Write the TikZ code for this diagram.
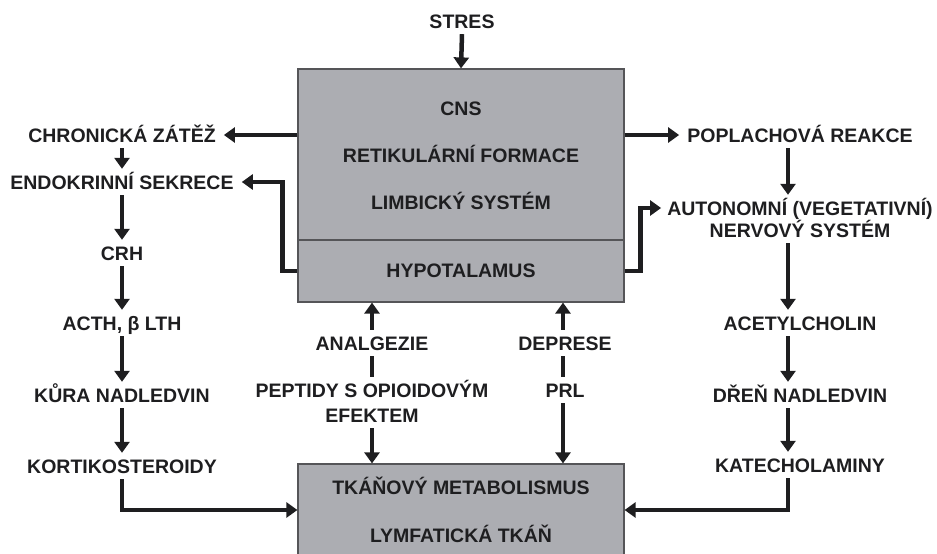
\documentclass[tikz,border=0pt]{standalone}
\usepackage{fontspec}
\setmainfont{Liberation Sans}
\usetikzlibrary{arrows.meta}
\definecolor{boxgray}{RGB}{172,173,178}
\definecolor{boxline}{RGB}{85,85,88}
\definecolor{ink}{RGB}{30,30,32}
\begin{document}
\begin{tikzpicture}[x=1pt,y=-1pt,
  lbl/.style={font=\bfseries\fontsize{19.5}{22}\selectfont, text=ink, text height=14pt, text depth=0pt, inner xsep=8pt, inner ysep=6pt},
  bigbox/.style={draw=boxline, line width=1.2pt, fill=boxgray, minimum width=326pt, inner sep=0pt},
  arr/.style={draw=ink, line width=4.5pt, -{Triangle[width=15pt,length=11pt]}},
  ln/.style={draw=ink, line width=4.5pt}]
\useasboundingbox (0,0) rectangle (937,554);
% boxes
\node[bigbox, minimum height=171pt] (cns) at (461,154.5) {};
\node[bigbox, minimum height=62pt] (hyp) at (461,271) {};
\node[bigbox, minimum height=92pt] (tis) at (461,510) {};
% box texts
\node[lbl] (tcns) at (461,108) {CNS};
\node[lbl] (tret) at (461,155) {RETIKULÁRNÍ FORMACE};
\node[lbl] (tlim) at (461,202) {LIMBICKÝ SYSTÉM};
\node[lbl] (thyp) at (461,270) {HYPOTALAMUS};
\node[lbl] (ttka) at (461,487) {TKÁŇOVÝ METABOLISMUS};
\node[lbl] (tlym) at (461,535) {LYMFATICKÁ TKÁŇ};
% top
\node[lbl] (stres) at (462,21) {STRES};
% left column
\node[lbl] (chron) at (122,135) {CHRONICKÁ ZÁTĚŽ};
\node[lbl] (endo) at (122,182) {ENDOKRINNÍ SEKRECE};
\node[lbl] (crh) at (122,253) {CRH};
\node[lbl] (acth) at (122,323) {ACTH, β LTH};
\node[lbl] (kura) at (122,395) {KŮRA NADLEDVIN};
\node[lbl] (kort) at (122,466) {KORTIKOSTEROIDY};
% right column
\node[lbl] (pop) at (800,135) {POPLACHOVÁ REAKCE};
\node[lbl] (auto) at (800,208) {AUTONOMNÍ (VEGETATIVNÍ)};
\node[lbl] (nerv) at (800,230) {NERVOVÝ SYSTÉM};
\node[lbl] (acet) at (800,323) {ACETYLCHOLIN};
\node[lbl] (dren) at (800,395) {DŘEŇ NADLEDVIN};
\node[lbl] (kat) at (800,465) {KATECHOLAMINY};
% middle
\node[lbl] (anal) at (372,343) {ANALGEZIE};
\node[lbl] (pept) at (372,390) {PEPTIDY S OPIOIDOVÝM};
\node[lbl] (efek) at (372,415) {EFEKTEM};
\node[lbl] (depr) at (565,343) {DEPRESE};
\node[lbl] (prl) at (565,390) {PRL};
% divider already formed by box borders
% connectors
\draw[arr] (stres.south) -- (cns.north);
\draw[arr] (cns.west |- chron) -- (chron.east);
\draw[arr] (chron.south) -- (endo.north);
\draw[arr] (hyp.west) -- ++(-15,0) |- (endo.east);
\draw[arr] (endo.south) -- (crh.north);
\draw[arr] (crh.south) -- (acth.north);
\draw[arr] (acth.south) -- (kura.north);
\draw[arr] (kura.south) -- (kort.north);
\draw[arr] (kort.south) |- (tis.west);
\draw[arr] (cns.east |- pop) -- (pop.west);
\draw[arr] ([xshift=-12pt]pop.south) -- ([xshift=-12pt]auto.north);
\draw[arr] (hyp.east) -- ++(16,0) |- ([xshift=2pt]auto.west);
\draw[arr] ([xshift=-12pt]nerv.south) -- ([xshift=-12pt]acet.north);
\draw[arr] ([xshift=-12pt]acet.south) -- ([xshift=-12pt]dren.north);
\draw[arr] ([xshift=-12pt]dren.south) -- ([xshift=-12pt]kat.north);
\draw[arr] ([xshift=-12pt]kat.south) |- (tis.east);
\draw[arr] (anal.north) -- (anal.north |- hyp.south);
\draw[ln] (pept.north) -- (anal.south);
\draw[arr] (efek.south) -- (efek.south |- tis.north);
\draw[arr] ([xshift=-2pt]depr.north) -- ([xshift=-2pt]depr.north |- hyp.south);
\draw[ln] ([xshift=-2pt]prl.north) -- ([xshift=-2pt]depr.south);
\draw[arr] ([xshift=-2pt]prl.south) -- ([xshift=-2pt]prl.south |- tis.north);
\end{tikzpicture}
\end{document}
